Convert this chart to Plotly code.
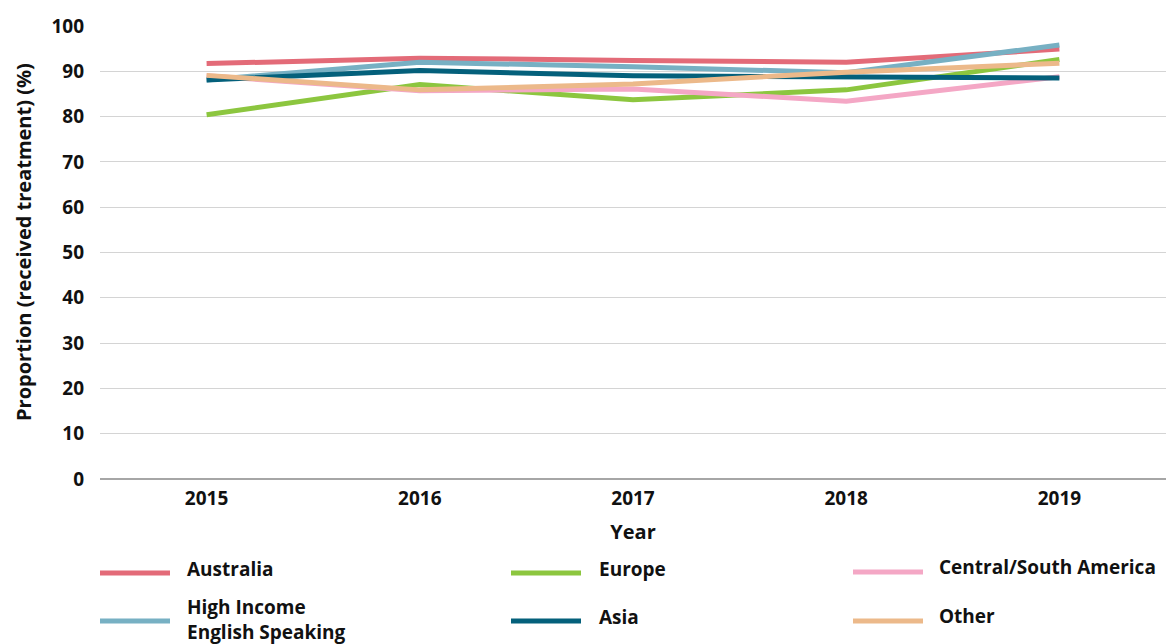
import plotly.graph_objects as go

years = ["2015", "2016", "2017", "2018", "2019"]

australia = [91.7, 92.9, 92.4, 92.0, 94.9]
europe = [80.4, 87.1, 83.7, 85.9, 92.6]
central_south_america = [89.0, 85.7, 86.1, 83.4, 88.8]
high_income_english = [88.1, 92.0, 91.0, 89.7, 95.8]
asia = [88.1, 90.2, 89.0, 88.7, 88.5]
other = [89.1, 85.9, 87.2, 89.8, 91.8]

series = [
    ("Australia", australia, "#E36B78"),
    ("Europe", europe, "#8CC63F"),
    ("Central/South America", central_south_america, "#F4A7C5"),
    ("High Income<br>English Speaking", high_income_english, "#77B0C3"),
    ("Asia", asia, "#04607B"),
    ("Other", other, "#ECB98A"),
]

FONT = "Open Sans"

fig = go.Figure()
for name, vals, color in series:
    fig.add_trace(go.Scatter(
        x=years, y=vals, mode="lines", name=name,
        line=dict(color=color, width=5),
        showlegend=False,
    ))

# Legenda rysowana ręcznie: 3 kolumny, 2 wiersze
W, H, L, B = 1066, 453, 100, 479
def px(x):
    return (x - L) / W
def py(y):
    return (B - y) / H

legend_pos = [
    (100, 185, 573, 569),
    (511, 597, 573, 569),
    (853, 937, 572, 567),
    (100, 185, 621, 619),
    (511, 597, 621, 617),
    (853, 937, 621, 616),
]
for (name, vals, color), (lx, tx, ly, ty) in zip(series, legend_pos):
    fig.add_shape(type="line", xref="paper", yref="paper",
                  x0=px(lx), x1=px(lx + 70), y0=py(ly), y1=py(ly),
                  line=dict(color=color, width=5))
    fig.add_annotation(xref="paper", yref="paper", x=px(tx), y=py(ty),
                       text=name, showarrow=False, xanchor="left", yanchor="middle",
                       align="left",
                       font=dict(family=FONT, size=19, color="#111", weight="bold"))

# Tytuł osi Y jako adnotacja (lekko przesunięty względem środka wykresu)
fig.add_annotation(xref="paper", yref="paper", x=px(23), y=py(242),
                   text="Proportion (received treatment) (%)", textangle=-90,
                   showarrow=False, xanchor="center", yanchor="middle",
                   font=dict(family=FONT, size=20, color="#111", weight="bold"))

fig.update_layout(
    width=1166, height=644,
    margin=dict(l=100, r=0, t=26, b=165),
    plot_bgcolor="white", paper_bgcolor="white",
    font=dict(family=FONT, size=19, color="#111", weight="bold"),
    xaxis=dict(
        type="category", range=[-0.5, 4.5],
        title=dict(text="Year", font=dict(size=20, weight="bold"), standoff=14),
        showgrid=False, showline=False, ticks="",
        tickfont=dict(size=19, weight="bold"),
        ticklabelstandoff=6,
    ),
    yaxis=dict(
        range=[0, 100], dtick=10,
        showgrid=True, gridcolor="#d4d4d4", gridwidth=1,
        zeroline=True, zerolinecolor="#a6a6a6", zerolinewidth=2,
        ticks="", tickfont=dict(size=19, weight="bold"),
        ticklabelstandoff=15,
    ),
)

fig.write_html("out.html", config={"displayModeBar": False},
               post_script="document.body.style.margin='0';")
